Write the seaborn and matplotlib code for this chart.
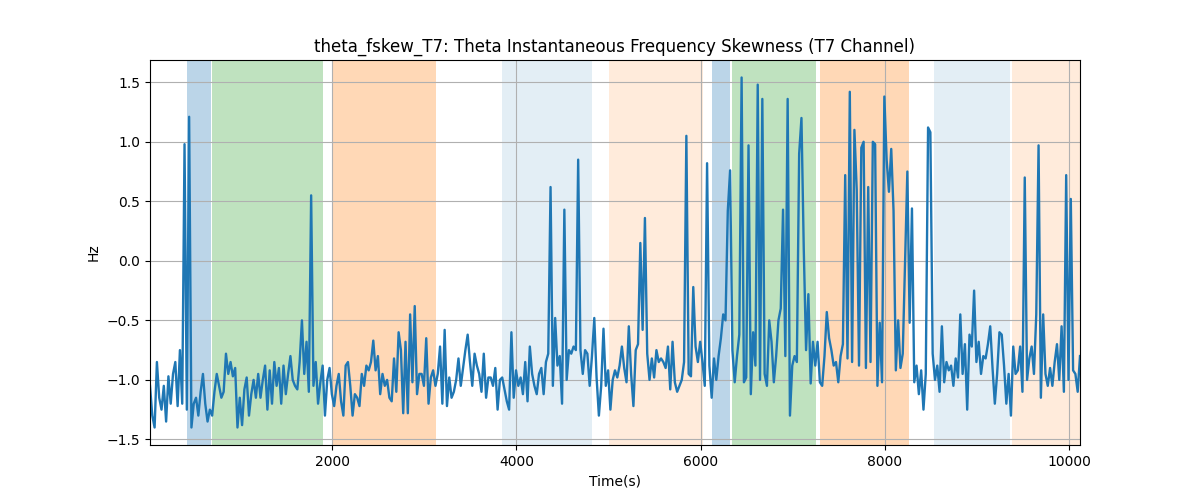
import numpy as np
import pandas as pd
import seaborn as sns
import matplotlib
matplotlib.use("Agg")
import matplotlib.pyplot as plt

# time axis: one sample every 25 s
t_start = 20
t_step = 25

# skewness values, left to right
seg1 = [-1.05, -1.30, -1.40, -0.85, -1.15, -1.25, -1.05, -1.35, -0.97, -1.20,
        -0.95, -0.85, -1.22, -0.75, -1.20, 0.98, -1.25, 1.21, -1.40, -1.20,
        -1.15, -1.30, -1.10, -0.95, -1.20, -1.35, -1.25, -1.30, -1.10, -0.95,
        -1.05, -1.15, -1.10, -0.78, -0.95, -0.85, -0.97]
seg2 = [-0.90, -1.40, -1.15, -1.38, -1.08, -0.98, -1.30, -1.12, -1.00, -1.15,
        -0.95, -1.15, -1.00, -0.88, -1.25, -0.92, -1.20, -0.85, -1.05, -0.90,
        -1.20, -0.88, -1.12, -0.95, -0.80, -1.00, -1.05, -1.08, -0.85, -0.50,
        -0.95, -0.68, -1.10, 0.55, -1.05, -0.85, -1.20]
seg3 = [-1.02, -0.88, -1.30, -1.00, -0.90, -1.12, -1.22, -1.05, -0.95, -1.18,
        -1.30, -0.88, -0.85, -1.05, -1.30, -1.12, -1.15, -1.22, -0.95, -1.05,
        -0.88, -0.92, -0.85, -0.67, -0.92, -0.80, -1.12, -0.95, -1.05, -1.00,
        -1.15, -1.18, -0.82, -1.10, -0.60, -0.75, -1.28]
seg4 = [-0.68, -1.28, -0.45, -1.02, -0.38, -1.12, -0.95, -0.95, -1.05, -0.65,
        -1.20, -0.98, -0.92, -1.05, -0.95, -0.72, -1.20, -0.58, -1.22, -0.98,
        -1.15, -1.10, -1.00, -0.82, -1.05, -0.90, -0.75, -0.62, -0.85, -1.05,
        -0.78, -0.88, -0.95, -1.10, -0.78, -1.15, -0.98]
seg5 = [-0.98, -1.05, -0.90, -1.25, -1.00, -0.98, -1.08, -1.18, -1.25, -0.60,
        -1.15, -0.92, -1.05, -0.98, -1.12, -0.85, -1.18, -0.72, -0.95, -1.05,
        -1.12, -0.95, -0.90, -1.12, -0.85, -0.78, 0.62, -1.05, -0.48, -0.88,
        -0.80, -1.20, 0.43, -1.00, -0.75, -0.78, -0.72]
seg6 = [-0.75, 0.85, -0.75, -0.95, -0.75, -0.78, -1.05, -0.80, -0.48, -0.98,
        -1.30, -1.05, -0.57, -1.05, -0.92, -1.25, -1.00, -0.92, -0.98, -0.88,
        -0.72, -0.90, -1.02, -0.55, -0.95, -1.22, -0.75, -0.70, 0.15, -0.58,
        0.36, -0.78, -1.00, -0.82, -0.98, -0.75, -0.85]
seg7 = [-0.82, -0.85, -0.90, -0.72, -1.08, -0.68, -1.02, -1.10, -1.05, -1.00,
        -0.85, 1.05, -0.95, -0.97, -0.22, -0.72, -0.85, -0.68, -0.85, -1.05,
        0.82, -0.88, -1.15, -0.82, -1.00, -0.80, -0.65, -0.45, -0.50, 0.42,
        0.76, -0.75, -1.02, -0.80, -0.62, 1.54, -1.02]
seg8 = [-0.98, 0.97, -1.12, -0.60, -0.88, 1.48, -1.00, 1.36, -0.95, -1.05,
        -0.50, -0.68, -1.02, -0.80, -0.50, -0.40, 0.43, -0.80, 1.36, -1.30,
        -0.88, -0.80, -0.85, 0.90, 1.20, 0.10, -0.75, -0.28, -1.03, -0.68,
        -0.88, -0.68, -1.02, -1.05, -0.80, -0.43, -0.65]
seg9 = [-0.75, -0.88, -0.85, -1.02, -0.80, -0.70, 0.72, -0.82, 1.42, -0.85,
        1.10, 0.60, -0.88, 0.95, 1.00, -0.90, 0.62, -0.85, 1.00, 0.98,
        -1.05, -0.52, -1.02, 1.38, 0.85, 0.58, 0.94, 0.42, -0.92, -0.50,
        -0.90, -0.78, 0.00, 0.75, -0.52, 0.44, -1.02]
seg10 = [-0.88, -1.12, -0.92, -1.25, -0.95, 1.12, 1.08, -0.78, -1.00, -0.88,
         -1.10, -0.55, -1.02, -0.85, -0.92, -0.88, -1.05, -0.82, -0.98, -0.45,
         -0.95, -0.70, -1.25, -0.62, -0.72, -0.25, -0.85, -0.68, -0.95, -0.80,
         -0.82, -0.70, -0.55, -0.90, -1.20, -0.95, -0.60]
seg11 = [-0.62, -0.88, -1.20, -0.95, -1.30, -0.72, -0.95, -0.92, -0.72, -1.10,
         0.70, -1.00, -0.82, -0.72, -0.95, -0.45, 0.97, -1.15, -0.45, -0.95,
         -1.05, -0.90, -1.05, -0.85, -0.70, -1.00, -0.55, -1.10, 0.72, -1.00,
         0.52, -0.92, -0.95, -1.10, -0.80]

# shaded intervals (start, end) and their colours
span_starts = [424, 696, 2011, 3848, 5000, 6120, 6337, 7294, 8533, 9381]
span_ends = [685, 1902, 3131, 4815, 6022, 6315, 7250, 8261, 9359, 10130]
span_colors = ["tab:blue", "tab:green", "tab:orange", "tab:blue", "tab:orange",
               "tab:blue", "tab:green", "tab:orange", "tab:blue", "tab:orange"]
span_alphas = [0.3, 0.3, 0.3, 0.12, 0.15, 0.3, 0.3, 0.3, 0.12, 0.15]

values = seg1 + seg2 + seg3 + seg4 + seg5 + seg6 + seg7 + seg8 + seg9 + seg10 + seg11
times = t_start + t_step * np.arange(len(values))
df = pd.DataFrame({"Time": times, "Hz": values})

fig, ax = plt.subplots(figsize=(12, 5), dpi=100)

for s, e, c, a in zip(span_starts, span_ends, span_colors, span_alphas):
    ax.axvspan(s, e, color=c, alpha=a, linewidth=0)

sns.lineplot(data=df, x="Time", y="Hz", ax=ax, color="#1f77b4", linewidth=1.7)

ax.set_xlim(times[0], times[-1])
ax.set_title("theta_fskew_T7: Theta Instantaneous Frequency Skewness (T7 Channel)")
ax.set_xlabel("Time(s)")
ax.set_ylabel("Hz")
ax.grid(True)

plt.savefig("out.png")
